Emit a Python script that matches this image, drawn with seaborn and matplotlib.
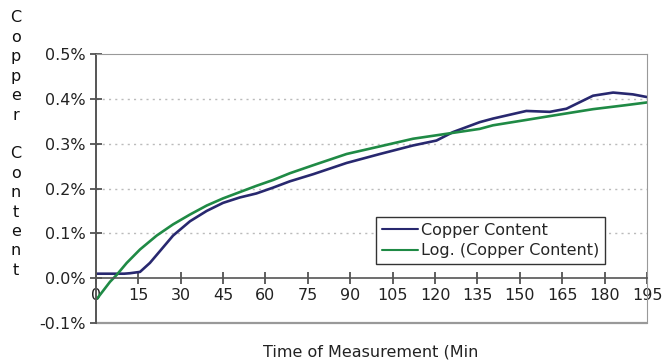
import pandas as pd
import matplotlib
matplotlib.use("Agg")
import matplotlib.pyplot as plt
import seaborn as sns

# data (time in minutes, copper content in %)
copper_time = [0, 5, 10, 12, 15.6, 19.1, 22.6, 27.3, 33.3, 39.2, 45, 50.9, 56.8, 62.7,
               68.6, 76.9, 88.7, 100.5, 112.2, 120.5, 126.4, 135.8, 140.5, 152.3, 160.6,
               166.5, 175.9, 183, 190, 195]
copper_value = [0.010, 0.010, 0.010, 0.011, 0.014, 0.034, 0.060, 0.095, 0.127, 0.150,
                0.168, 0.180, 0.189, 0.202, 0.216, 0.232, 0.257, 0.277, 0.296, 0.307,
                0.326, 0.348, 0.356, 0.373, 0.371, 0.378, 0.407, 0.414, 0.410, 0.404]

log_time = [0.5, 5, 7.3, 10.9, 15.6, 21.5, 27.3, 33.3, 39.2, 45, 50.9, 56.8, 62.7, 68.6,
            76.9, 88.7, 100.5, 112.2, 124, 135.8, 140.5, 152.3, 164, 175.9, 187.6, 195]
log_value = [-0.045, -0.008, 0.007, 0.034, 0.064, 0.095, 0.120, 0.142, 0.162, 0.178,
             0.192, 0.206, 0.219, 0.234, 0.252, 0.277, 0.294, 0.311, 0.322, 0.333,
             0.341, 0.353, 0.365, 0.377, 0.386, 0.392]

x_ticks = [0, 15, 30, 45, 60, 75, 90, 105, 120, 135, 150, 165, 180, 195]
y_ticks = [-0.1, 0.0, 0.1, 0.2, 0.3, 0.4, 0.5]

df = pd.concat([
    pd.DataFrame({"Time": copper_time, "Copper": copper_value, "Series": "Copper Content"}),
    pd.DataFrame({"Time": log_time, "Copper": log_value, "Series": "Log. (Copper Content)"}),
])

sns.set_style("white")
plt.rcParams["font.family"] = ["DejaVu Sans"]

fig = plt.figure(figsize=(6.66, 3.64), dpi=100)
ax = fig.add_axes([0.144, 0.1126, 0.8275, 0.739])

sns.lineplot(data=df, x="Time", y="Copper", hue="Series", sort=False, linewidth=1.9,
             palette={"Copper Content": "#28286f", "Log. (Copper Content)": "#1f8a45"}, ax=ax)

ax.set_xlim(0, 195)
ax.set_ylim(-0.1, 0.5)
ax.set_xticks(x_ticks)
ax.set_yticks(y_ticks)
ax.set_yticklabels([f"{v:.1f}%" for v in y_ticks])
ax.tick_params(axis="both", bottom=True, left=True, labelsize=11.5, colors="#444444",
               labelcolor="#222222", direction="inout", length=8, width=1.2)
ax.tick_params(axis="x", pad=3)

for v in y_ticks[2:-1]:
    ax.axhline(v, color="#bbbbbb", linestyle=(0, (1.5, 3)), linewidth=1, zorder=0)

ax.spines["bottom"].set_position(("data", 0))
ax.spines["bottom"].set_color("#555555")
ax.spines["bottom"].set_linewidth(1.2)
ax.spines["left"].set_color("#555555")
ax.spines["left"].set_linewidth(1.4)
ax.spines["top"].set_color("#999999")
ax.spines["right"].set_color("#999999")
ax.axhline(-0.1, color="#999999", linewidth=1.6, clip_on=False)

ax.set_xlabel("")
ax.set_ylabel("")
fig.text(0.556, 0.033, "Time of Measurement (Min", ha="center", va="center",
         fontsize=11.5, color="#222222")

label = "Copper Content"
for i, ch in enumerate(label):
    fig.text(0.024, 1 - (18 + i * 19.4) / 364, ch, ha="center", va="center",
             fontsize=11.5, color="#111111", fontweight="medium")

leg = ax.legend(loc="upper left", bbox_to_anchor=(0.4936, 0.4238), fontsize=11.5,
                frameon=True, fancybox=False, edgecolor="#333333", framealpha=1,
                handlelength=2.3, handletextpad=0.2, borderpad=0.35, labelspacing=0.35)
leg.get_frame().set_linewidth(1.0)
for line in leg.get_lines():
    line.set_linewidth(1.5)

fig.savefig("out.png", dpi=100)
